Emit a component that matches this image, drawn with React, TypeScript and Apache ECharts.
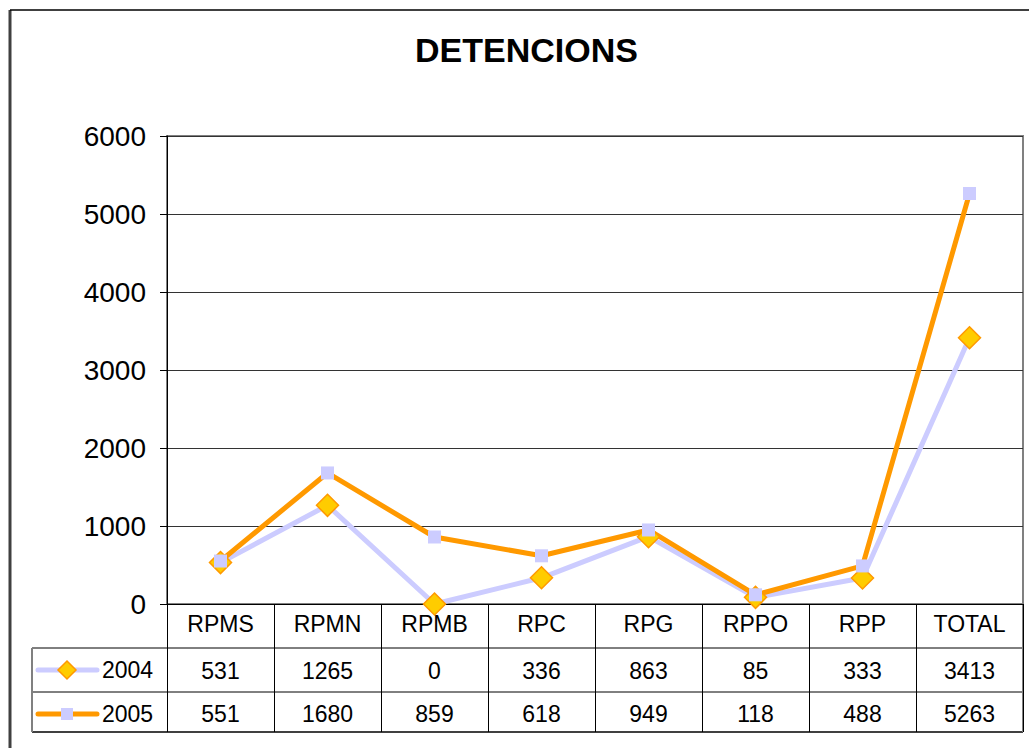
import React, { useEffect, useRef } from "react";
import * as echarts from "echarts";

const categories = ["RPMS", "RPMN", "RPMB", "RPC", "RPG", "RPPO", "RPP", "TOTAL"];
const values2004 = [531, 1265, 0, 336, 863, 85, 333, 3413];
const values2005 = [551, 1680, 859, 618, 949, 118, 488, 5263];
const seriesNames = ["2004", "2005"];
const yTicks = { min: 0, max: 6000, interval: 1000 };

const LAVENDER = "#ccccff";
const ORANGE = "#ff9900";
const GOLD = "#ffcc00";
const FONT = "Liberation Sans, Arial, sans-serif";

export default function App() {
  const ref = useRef<HTMLDivElement>(null);
  useEffect(() => {
    if (!ref.current) return;
    const chart = echarts.init(ref.current, null, { renderer: "svg" });
    const tableLabel = {
      interval: 0,
      color: "#000",
      fontSize: 23,
      lineHeight: 23,
      fontFamily: FONT,
    };
    const left = 167;
    const right = 1023;
    const bottomY = 604;
    const row = 44;
    const tableBottom = 732;
    const option: any = {
      animation: false,
      backgroundColor: "#fff",
      title: {
        text: "DETENCIONS",
        left: 415,
        top: 33,
        padding: 0,
        textStyle: { fontSize: 34, fontWeight: "bold", color: "#000", fontFamily: FONT },
      },
      grid: {
        left: left,
        right: 1029 - right,
        top: 136,
        bottom: 748 - bottomY,
        show: true,
        borderColor: "#808080",
        borderWidth: 2,
        containLabel: false,
      },
      xAxis: [
        {
          type: "category",
          data: categories,
          boundaryGap: true,
          position: "bottom",
          axisLine: { show: true, lineStyle: { color: "#000", width: 1 } },
          axisTick: {
            show: true,
            interval: 0,
            length: tableBottom - bottomY,
            lineStyle: { color: "#000", width: 1 },
          },
          axisLabel: { ...tableLabel, margin: 8 },
          splitLine: { show: false },
        },
        {
          type: "category",
          data: values2004.map(String),
          position: "bottom",
          offset: row,
          boundaryGap: true,
          axisLine: { show: false },
          axisTick: { show: false },
          axisLabel: { ...tableLabel, margin: 11 },
        },
        {
          type: "category",
          data: values2005.map(String),
          position: "bottom",
          offset: row * 2,
          boundaryGap: true,
          axisLine: { show: false },
          axisTick: { show: false },
          axisLabel: { ...tableLabel, margin: 10 },
        },
      ],
      yAxis: {
        type: "value",
        min: yTicks.min,
        max: yTicks.max,
        interval: yTicks.interval,
        axisLine: { show: true, lineStyle: { color: "#000", width: 1 } },
        axisTick: { show: true, length: 7, lineStyle: { color: "#000" } },
        axisLabel: {
          color: "#000",
          fontSize: 28,
          fontFamily: FONT,
          margin: 21,
          formatter: (v: number) => String(v),
        },
        splitLine: { show: true, lineStyle: { color: "#333", width: 1 } },
      },
      series: [
        {
          name: seriesNames[0],
          type: "line",
          data: values2004,
          xAxisIndex: 0,
          lineStyle: { color: LAVENDER, width: 5 },
          itemStyle: { color: GOLD, borderColor: ORANGE, borderWidth: 1.5 },
          symbol: "diamond",
          symbolSize: 22,
          showAllSymbol: true,
        },
        {
          name: seriesNames[1],
          type: "line",
          data: values2005,
          xAxisIndex: 0,
          lineStyle: { color: ORANGE, width: 5 },
          itemStyle: { color: LAVENDER, borderWidth: 0 },
          symbol: "rect",
          symbolSize: 13,
          showAllSymbol: true,
        },
      ],
      graphic: [
        { type: "line", shape: { x1: 10, y1: 10, x2: 10, y2: 748 }, style: { stroke: "#404040", lineWidth: 3 } },
        { type: "line", shape: { x1: 10, y1: 10, x2: 1029, y2: 10 }, style: { stroke: "#000", lineWidth: 1.5 } },
        { type: "line", shape: { x1: 32, y1: bottomY + row, x2: right, y2: bottomY + row }, style: { stroke: "#000", lineWidth: 1 } },
        { type: "line", shape: { x1: 32, y1: bottomY + row * 2, x2: right, y2: bottomY + row * 2 }, style: { stroke: "#000", lineWidth: 1 } },
        { type: "line", shape: { x1: 32, y1: tableBottom, x2: right, y2: tableBottom }, style: { stroke: "#000", lineWidth: 1.5 } },
        { type: "line", shape: { x1: 32, y1: bottomY + row, x2: 32, y2: tableBottom }, style: { stroke: "#808080", lineWidth: 2 } },
        { type: "line", shape: { x1: right, y1: bottomY, x2: right, y2: tableBottom }, style: { stroke: "#808080", lineWidth: 2 } },
        { type: "line", shape: { x1: 38, y1: 670, x2: 97, y2: 670 }, style: { stroke: LAVENDER, lineWidth: 5, lineCap: "round" } },
        {
          type: "polygon",
          shape: { points: [[67, 661], [76, 670], [67, 679], [58, 670]] },
          style: { fill: GOLD, stroke: ORANGE, lineWidth: 1.5 },
        },
        {
          type: "text",
          x: 102,
          y: 670,
          style: { text: seriesNames[0], fontSize: 23, fontFamily: FONT, fill: "#000", textVerticalAlign: "middle" },
        },
        { type: "line", shape: { x1: 38, y1: 714, x2: 97, y2: 714 }, style: { stroke: ORANGE, lineWidth: 5, lineCap: "round" } },
        { type: "rect", shape: { x: 61, y: 708, width: 12, height: 12 }, style: { fill: LAVENDER } },
        {
          type: "text",
          x: 102,
          y: 714,
          style: { text: seriesNames[1], fontSize: 23, fontFamily: FONT, fill: "#000", textVerticalAlign: "middle" },
        },
      ],
    };
    chart.setOption(option);
    return () => chart.dispose();
  }, []);
  return (
    <div
      ref={ref}
      style={{ position: "absolute", left: 0, top: 0, width: 1029, height: 748, background: "#fff" }}
    />
  );
}
